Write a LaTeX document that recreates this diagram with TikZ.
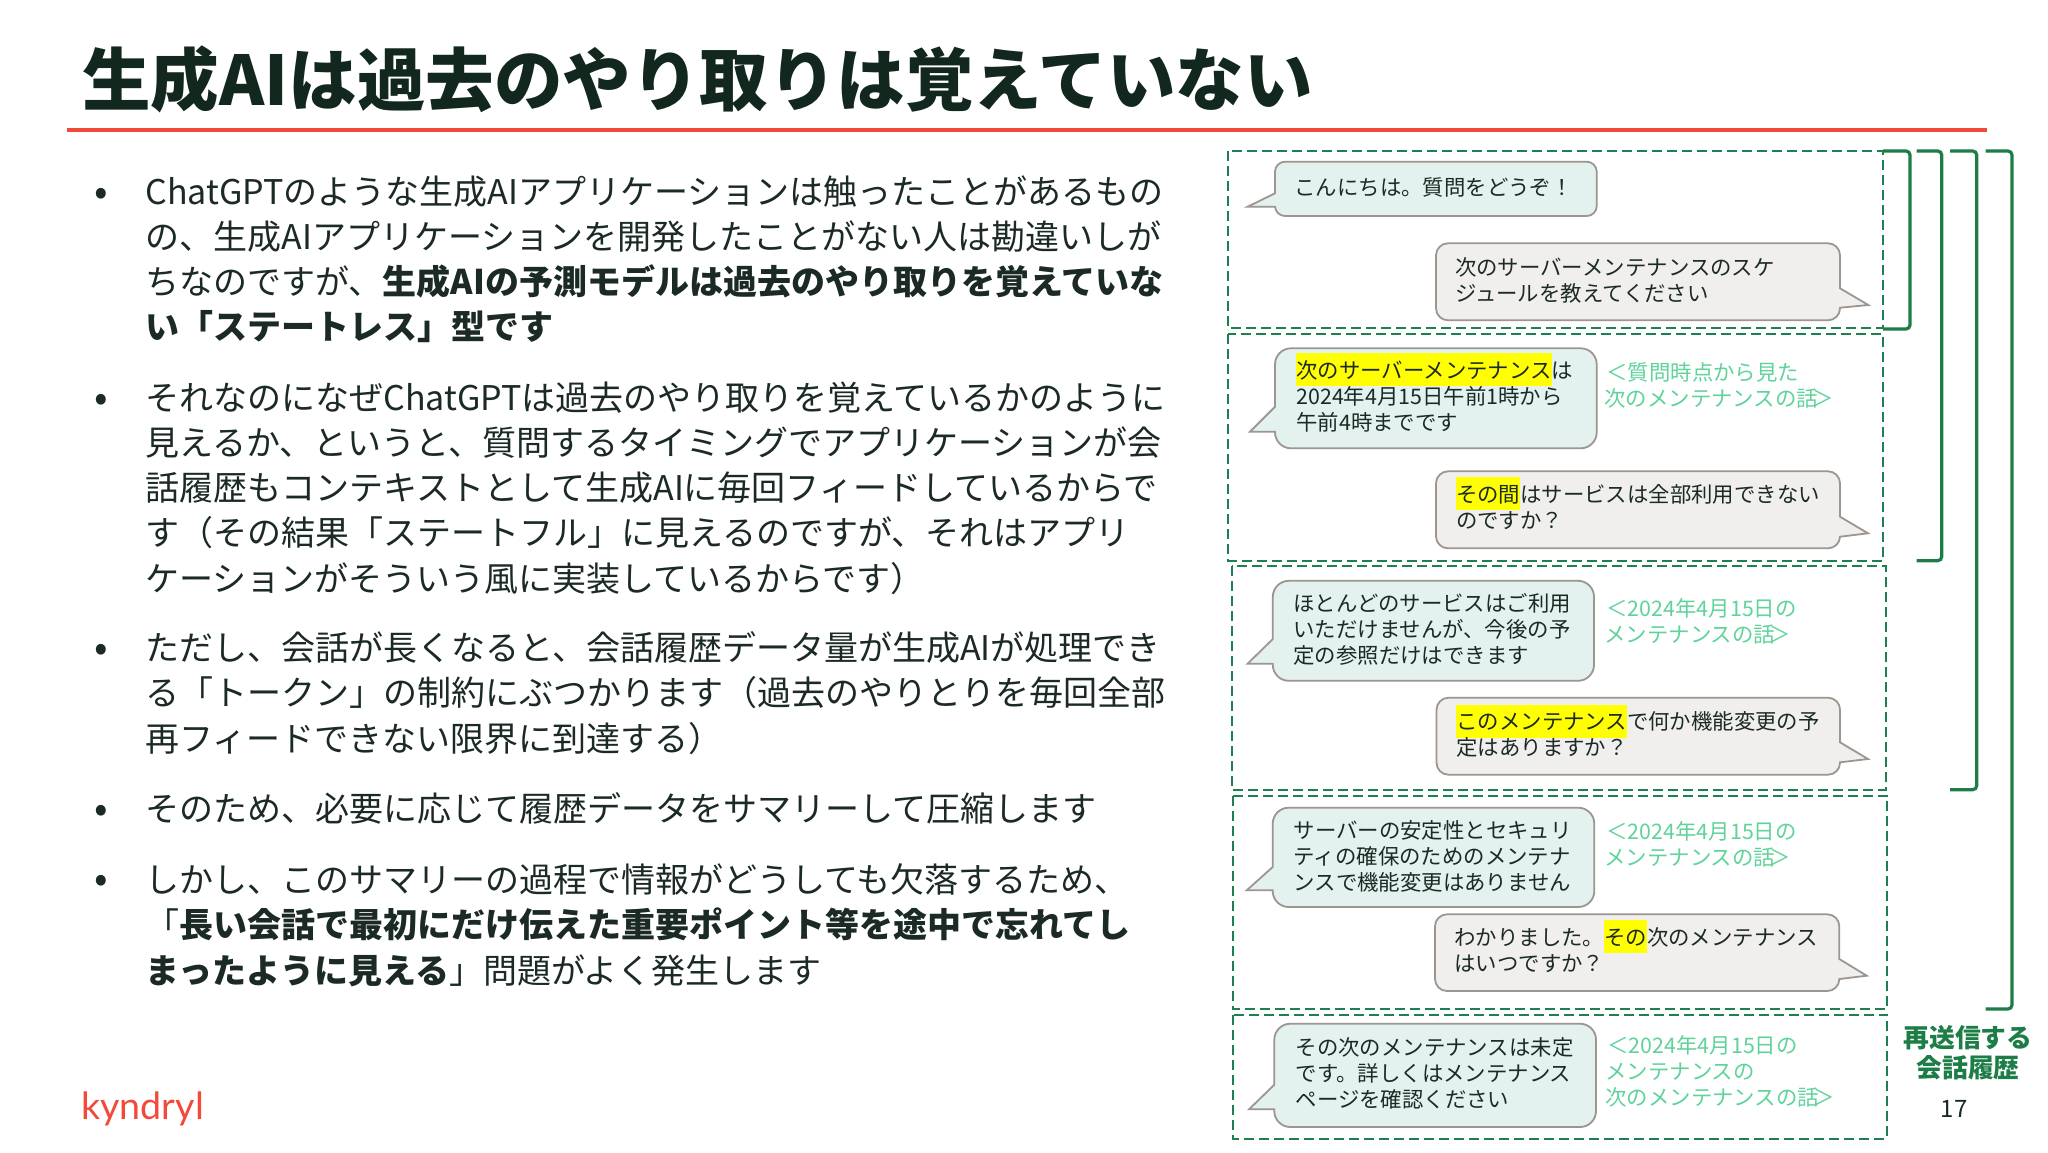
\documentclass[tikz,border=0pt]{standalone}
\usepackage{fontspec}
\setmainfont{Noto Sans CJK JP}
\newfontfamily\logofont{Lato}
\definecolor{inkdark}{HTML}{12281F}
\definecolor{inktext}{HTML}{1B2A24}
\definecolor{redline}{HTML}{F2493A}
\definecolor{dashgreen}{HTML}{1E7F50}
\definecolor{brackgreen}{HTML}{1D7D47}
\definecolor{notegreen}{HTML}{5FD39A}
\definecolor{bubA}{HTML}{E3F1EF}
\definecolor{bubB}{HTML}{F1EFED}
\definecolor{bubline}{HTML}{9C9590}
\definecolor{hlyellow}{HTML}{FFFF00}
\newcommand\noskiplim{\lineskiplimit -100pt\relax}
\newcommand\tlb{\rule{0pt}{1.3em}}
\newcommand\tlc{\rule{0pt}{1.1em}}
\newcommand\hlt[1]{{\setlength\fboxsep{0pt}\colorbox{hlyellow}{\rule[-0.36em]{0pt}{1.54em}#1}}}
\tikzset{
  bodytext/.style={anchor=north west,inner sep=0pt,align=left,text=inktext,font=\fontsize{17}{22.65}\selectfont\noskiplim},
  bulletmark/.style={anchor=center,inner sep=0pt,text=inktext,font=\fontsize{20}{24}\selectfont},
  bubbletext/.style={anchor=north west,inner sep=0pt,align=left,text=inktext,font=\fontsize{10.7}{13}\selectfont\noskiplim},
  notetext/.style={anchor=north west,inner sep=0pt,align=left,text=notegreen,font=\fontsize{10.7}{13}\selectfont\noskiplim},
  dashbox/.style={draw=dashgreen,line width=1pt,dash pattern=on 5pt off 2.5pt},
  bracket/.style={draw=brackgreen,line width=1.6pt,rounded corners=2pt},
  bubblepath/.style={draw=bubline,line width=0.9pt,line join=miter}
}
\newcommand\bubL[9]{\path[bubblepath,fill=bubA] (#7,#8) -- (#1,#5) [rounded corners=#9pt] -- (#1,#2) -- (#3,#2) -- (#3,#4) -- (#1,#4) [sharp corners] -- (#1,#6) -- cycle;}
\newcommand\bubR[9]{\path[bubblepath,fill=bubB] (#7,#8) -- (#3,#6) [rounded corners=#9pt] -- (#3,#4) -- (#1,#4) -- (#1,#2) -- (#3,#2) [sharp corners] -- (#3,#5) -- cycle;}
\begin{document}
\begin{tikzpicture}[x=0.5pt,y=-0.5pt]
\useasboundingbox (0,0) rectangle (2048,1152);
\fill[white] (0,0) rectangle (2048,1152);
% title
\node[anchor=base west,inner sep=0pt,text=inkdark,font=\fontsize{34.25}{40}\selectfont\bfseries] (title) at (82,105.5) {生成AIは過去のやり取りは覚えていない};
\fill[redline] (67,128) rectangle (1987,132);
% body
\node[bulletmark] (b1) at (101.7,196.5) {•};
\node[bodytext] (p1) at (145,166.2) {\tlc ChatGPTのような生成AIアプリケーションは触ったことがあるもの\\の、生成AIアプリケーションを開発したことがない人は勘違いしが\\ちなのですが、\textbf{生成AIの予測モデルは過去のやり取りを覚えていな}\\\textbf{い「ステートレス」型です}};
\node[bulletmark] (b2) at (101.7,402.5) {•};
\node[bodytext] (p2) at (145,372.2) {\tlc それなのになぜChatGPTは過去のやり取りを覚えているかのように\\見えるか、というと、質問するタイミングでアプリケーションが会\\話履歴もコンテキストとして生成AIに毎回フィードしているからで\\す（その結果「ステートフル」に見えるのですが、それはアプリ\\ケーションがそういう風に実装しているからです）};
\node[bulletmark] (b3) at (101.7,653) {•};
\node[bodytext] (p3) at (145,622.8) {\tlc ただし、会話が長くなると、会話履歴データ量が生成AIが処理でき\\る「トークン」の制約にぶつかります（過去のやりとりを毎回全部\\再フィードできない限界に到達する）};
\node[bulletmark] (b4) at (101.7,814) {•};
\node[bodytext] (p4) at (145,783.8) {\tlc そのため、必要に応じて履歴データをサマリーして圧縮します};
\node[bulletmark] (b5) at (101.7,884) {•};
\node[bodytext] (p5) at (145,854.8) {\tlc しかし、このサマリーの過程で情報がどうしても欠落するため、\\「\textbf{長い会話で最初にだけ伝えた重要ポイント等を途中で忘れてし}\\\textbf{まったように見える}」問題がよく発生します};
% dashed groups
\draw[dashbox] (1228,151) rectangle (1883,328);
\draw[dashbox] (1228,334.3) rectangle (1883,560.7);
\draw[dashbox] (1231.7,566.4) rectangle (1886,789.7);
\draw[dashbox] (1232.7,795.5) rectangle (1887.3,1008.5);
\draw[dashbox] (1232.7,1015.2) rectangle (1887.3,1138.5);
% brackets
\draw[bracket] (1883,151) -- (1910,151) -- (1910,329) -- (1883,329);
\draw[bracket] (1916.7,151) -- (1941.7,151) -- (1941.7,560.7) -- (1916.7,560.7);
\draw[bracket] (1950,151) -- (1976.7,151) -- (1976.7,789.7) -- (1950,789.7);
\draw[bracket] (1985.7,151) -- (2012,151) -- (2012,1009) -- (1985.7,1009);
% bubbles
\bubL{1275}{161.7}{1596.7}{216}{193.3}{206.7}{1247.7}{206.7}{5}
\bubR{1436}{243.3}{1840}{320.3}{288.3}{307.7}{1868.3}{305}{6}
\bubL{1275}{348.3}{1596.7}{448.3}{406.7}{431.7}{1250}{431.7}{8}
\bubR{1436}{471.3}{1840}{548.3}{516.7}{536.7}{1868}{533.3}{6}
\bubL{1272.8}{580.8}{1594}{680.8}{639}{663.8}{1247.5}{663.8}{8}
\bubR{1436.5}{697.7}{1840}{774.7}{742.3}{762.3}{1868}{759}{6}
\bubL{1272.7}{807.7}{1594.3}{907}{867}{890.3}{1246.7}{890.3}{8}
\bubR{1435}{914.3}{1839.3}{991}{959}{979}{1866.7}{975.7}{6}
\bubL{1274.3}{1023.7}{1596}{1127}{1084.7}{1109.3}{1249}{1109.3}{8}
% bubble texts
\node[bubbletext] (t1) at (1294,166.9) {\tlb こんにちは。質問をどうぞ！};
\node[bubbletext] (t2) at (1454.7,246.9) {\tlb 次のサーバーメンテナンスのスケ\\ジュールを教えてください};
\node[bubbletext] (t3) at (1296,350.2) {\tlb\hlt{次のサーバーメンテナンス}は\\2024年4月15日午前1時から\\午前4時までです};
\node[bubbletext] (t4) at (1455.7,474.5) {\tlb\hlt{その間}はサービスは全部利用できない\\のですか？};
\node[bubbletext] (t5) at (1293,582.8) {\tlb ほとんどのサービスはご利用\\いただけませんが、今後の予\\定の参照だけはできます};
\node[bubbletext] (t6) at (1456,701.7) {\tlb\hlt{このメンテナンス}で何か機能変更の予\\定はありますか？};
\node[bubbletext] (t7) at (1293.3,810.5) {\tlb サーバーの安定性とセキュリ\\ティの確保のためのメンテナ\\ンスで機能変更はありません};
\node[bubbletext] (t8) at (1454,917.2) {\tlb わかりました。\hlt{その}次のメンテナンス\\はいつですか？};
\node[bubbletext] (t9) at (1295.3,1027.2) {\tlb その次のメンテナンスは未定\\です。詳しくはメンテナンス\\ページを確認ください};
% notes
\node[notetext] (n2) at (1604,352.5) {\tlb\kern0.1em ＜質問時点から見た\\次のメンテナンスの話\kern-0.25em ＞};
\node[notetext] (n3) at (1604,588.2) {\tlb\kern0.1em ＜2024年4月15日の\\メンテナンスの話\kern-0.25em ＞};
\node[notetext] (n4) at (1604,811.5) {\tlb\kern0.1em ＜2024年4月15日の\\メンテナンスの話\kern-0.25em ＞};
\node[notetext] (n5) at (1605,1025.2) {\tlb\kern0.1em ＜2024年4月15日の\\メンテナンスの\\次のメンテナンスの話\kern-0.25em ＞};
% label
\node[anchor=center,inner sep=0pt,align=center,text=brackgreen,font=\fontsize{12.9}{15.4}\selectfont\bfseries] (lab) at (1968,1052.7) {再送信する\\会話履歴};
\node[anchor=center,inner sep=0pt,text=inktext,font=\fontsize{12}{14}\selectfont] (pg) at (1954,1109) {17};
\node[anchor=base west,inner sep=0pt,text=redline,font=\logofont\fontsize{18.8}{24}\selectfont] (logo) at (81,1119) {kyndryl};
\end{tikzpicture}
\end{document}
